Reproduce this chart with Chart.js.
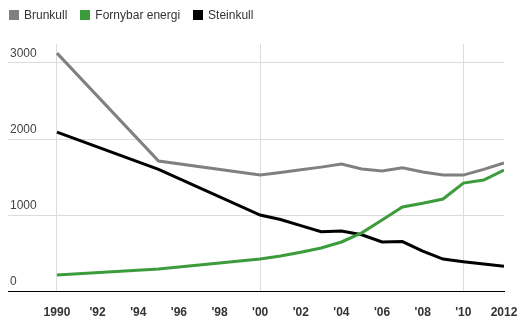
<!DOCTYPE html>
<html>
<head>
<meta charset="utf-8">
<script src="https://cdn.jsdelivr.net/npm/chart.js@4"></script>
<style>
  html, body { margin: 0; padding: 0; background: #fff; }
  #wrap { position: relative; width: 522px; height: 324px; }
  #legend { position: absolute; left: 9px; top: 8px; font: 12px 'Liberation Sans', Arial, sans-serif; color: #333; white-space: nowrap; }
  #legend span.item { display: inline-block; margin-right: 13px; line-height: 14px; }
  #legend i { display: inline-block; width: 10px; height: 10px; margin-right: 5px; vertical-align: -1px; }
</style>
</head>
<body>
<div id="wrap">
  <canvas id="chart" width="522" height="324"></canvas>
  <div id="legend"></div>
</div>
<script>
const years = [1990, 1995, 2000, 2001, 2002, 2003, 2004, 2005, 2006, 2007, 2008, 2009, 2010, 2011, 2012];
const brunkull = [3130, 1710, 1525, 1560, 1595, 1630, 1670, 1605, 1580, 1620, 1565, 1525, 1525, 1600, 1685];
const fornybar = [210, 290, 420, 460, 510, 565, 645, 765, 935, 1105, 1155, 1210, 1420, 1460, 1590];
const steinkull = [2090, 1600, 1000, 940, 860, 780, 790, 740, 645, 650, 525, 420, 385, 355, 325];
const seriesNames = ['Brunkull', 'Fornybar energi', 'Steinkull'];
const seriesColors = ['#808080', '#3c9c3c', '#000000'];
const xTicks = [1990, 1992, 1994, 1996, 1998, 2000, 2002, 2004, 2006, 2008, 2010, 2012];
const yTicks = [0, 1000, 2000, 3000];

function points(values) {
  return years.map((y, i) => ({ x: y, y: values[i] }));
}

const allValues = [brunkull, fornybar, steinkull];

// legend as plain html, the chart's own legend is hidden
document.getElementById('legend').innerHTML = seriesNames.map((n, i) =>
  `<span class="item"><i style="background:${seriesColors[i]}"></i>${n}</span>`).join('');

const ctx = document.getElementById('chart').getContext('2d');
new Chart(ctx, {
  type: 'line',
  data: {
    datasets: seriesNames.map((n, i) => ({
      label: n,
      data: points(allValues[i]),
      borderColor: seriesColors[i],
      backgroundColor: seriesColors[i]
    }))
  },
  options: {
    responsive: false,
    animation: false,
    elements: {
      line: { borderWidth: 3, tension: 0 },
      point: { radius: 0 }
    },
    layout: { padding: { left: 4, right: 18, top: 44, bottom: 4 } },
    plugins: {
      tooltip: { enabled: false },
      legend: { display: false }
    },
    scales: {
      x: {
        type: 'linear',
        min: 1987.59,
        max: 2012,
        afterBuildTicks: (axis) => { axis.ticks = xTicks.map(v => ({ value: v })); },
        afterFit: (axis) => { axis.height = 29; axis.paddingLeft = 0; axis.paddingRight = 0; },
        ticks: {
          autoSkip: false,
          maxRotation: 0,
          padding: 14,
          color: '#333',
          font: { family: 'Liberation Sans, Arial', size: 12, weight: 'bold' },
          callback: (v) => (v === 1990 || v === 2012) ? String(v) : "'" + String(v).slice(2)
        },
        grid: {
          drawTicks: false,
          color: (c) => (c.tick && c.tick.value % 10 === 0) ? '#dcdcdc' : 'rgba(0,0,0,0)'
        },
        border: { display: true, color: '#000', width: 1 }
      },
      y: {
        min: 0,
        max: 3250,
        afterBuildTicks: (axis) => { axis.ticks = yTicks.map(v => ({ value: v })); },
        ticks: {
          mirror: true,
          padding: 2,
          labelOffset: -9,
          color: '#444',
          font: { family: 'Liberation Sans, Arial', size: 12 },
          callback: (v) => String(v)
        },
        grid: { drawTicks: false, color: '#dcdcdc' },
        border: { display: false }
      }
    }
  }
});
</script>
</body>
</html>
